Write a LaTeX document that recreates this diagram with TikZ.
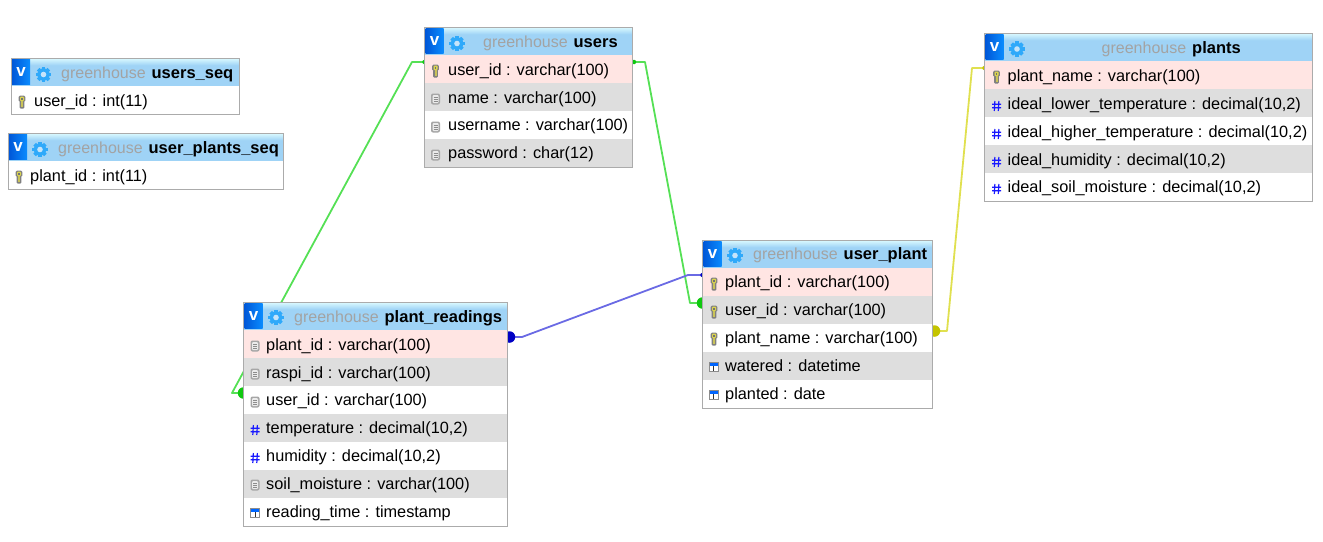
\documentclass[tikz,border=0pt]{standalone}
\usepackage{fontspec}
\setmainfont{Liberation Sans}
\usetikzlibrary{backgrounds}
\definecolor{framegray}{HTML}{ABABAB}
\definecolor{headblue}{HTML}{9FD3F6}
\definecolor{headtop}{HTML}{DDFBFF}
\definecolor{pinkrow}{HTML}{FFE5E3}
\definecolor{grayrow}{HTML}{DEDEDE}
\definecolor{dbgray}{HTML}{A3A3A3}
\definecolor{gearblue}{HTML}{2FA9FA}
\definecolor{btnleft}{HTML}{0058D8}
\definecolor{btnright}{HTML}{0A8CFF}
\definecolor{linkgreen}{HTML}{55E055}
\definecolor{dotgreen}{HTML}{10C810}
\definecolor{linkblue}{HTML}{6A6AE4}
\definecolor{dotblue}{HTML}{0000C4}
\definecolor{linkyellow}{HTML}{E0E050}
\definecolor{dotyellow}{HTML}{C4C400}
\pgfdeclareverticalshading{headshade}{100bp}{color(0bp)=(headblue); color(62bp)=(headblue); color(75bp)=(headtop); color(100bp)=(headtop)}
\pgfdeclarehorizontalshading{buttonshade}{100bp}{color(0bp)=(btnleft); color(25bp)=(btnleft); color(75bp)=(btnright); color(100bp)=(btnright)}
\newcommand{\tabname}[1]{\hspace{1.5pt}\textcolor{black}{\fontsize{16.5}{18}\selectfont\bfseries #1}}
\tikzset{
  tablebox/.style={draw=framegray, line width=1pt, anchor=north west, inner sep=0, outer sep=0},
  headrow/.style={anchor=north west, shading=headshade, minimum height=28, inner sep=0, outer sep=0},
  button/.style={anchor=north west, shading=buttonshade, minimum width=18, minimum height=25, inner sep=0, text=white, font=\fontsize{17}{18}\selectfont\bfseries},
  pink/.style={anchor=north west, fill=pinkrow, minimum height=28, inner sep=0, outer sep=0},
  gray/.style={anchor=north west, fill=grayrow, minimum height=28, inner sep=0, outer sep=0},
  plain/.style={anchor=north west, fill=white, minimum height=28, inner sep=0, outer sep=0},
  field/.style={anchor=base west, inner sep=0, font=\fontsize{16.3}{18}\selectfont},
  title/.style={anchor=base west, inner sep=0, text=dbgray, font=\fontsize{16}{18}\selectfont},
  bigdot/.style={circle, minimum size=11.5, inner sep=0},
  smalldot/.style={circle, minimum size=4.5, inner sep=0},
  link/.style={line width=1.8pt, line join=round},
  keyicon/.pic={
    \fill[black!50, rounded corners=1.5pt] (-3.4,-6.5) rectangle (3.4,0);
    \fill[black!50, rounded corners=1pt] (-2.4,-1) rectangle (2.4,6.5);
    \fill[yellow!80!black!80!white, rounded corners=1pt] (-2,-5.5) rectangle (2,-0.8);
    \fill[black!55] (-0.8,-4) rectangle (0.8,-2.4);
    \fill[yellow!70!black!80!white] (-1,-0.8) rectangle (1,5.4);
  },
  fieldicon/.pic={
    \fill[rounded corners=2pt, black!35] (-4.5,-5.5) rectangle (4.5,5.5);
    \fill[rounded corners=1pt, black!8] (-3,-4) rectangle (3,4);
    \draw[black!45, line width=0.8pt] (-2,-2) -- (2,-2) (-2,0) -- (2,0) (-2,2) -- (2,2);
  },
  numicon/.pic={
    \draw[blue!90!white, line width=1.2pt] (-1.6,-5) -- (-2.2,5) (2.4,-5) -- (1.8,5) (-4.5,-1.8) -- (4.5,-1.8) (-4.5,1.8) -- (4.5,1.8);
  },
  dateicon/.pic={
    \fill[black!45] (-5,-5) rectangle (5,5);
    \fill[white] (-4,-1.5) rectangle (4,4);
    \fill[blue!60!cyan] (-4,-4) rectangle (4,-1.5);
    \draw[black!80, line width=1.2pt] (0.3,-0.8) -- (0.3,3.5);
  },
  gearicon/.pic={
    \foreach \ang in {0,45,...,315}
      \fill[gearblue, rotate=\ang] (-1.8,-7.6) rectangle (1.8,0);
    \fill[gearblue] (0,0) circle (6.2);
    \fill[headblue!60!white] (0,0) circle (2.8);
  }
}
\begin{document}
\begin{tikzpicture}[x=1pt,y=-1pt]
  \useasboundingbox (0,0) rectangle (1323,541);

  % users_seq
  \node[headrow, minimum width=228.5] (seq_head) at (11,58) {};
  \node[button] (seq_btn) at (12,59) {v};
  \pic at (43.5,74.5) {gearicon};
  \node[title] (seq_title) at (61,78) {greenhouse \tabname{users\_seq}};
  \node[plain, minimum width=228.5] (seq_user_id) at (11,86) {};
  \pic at (22,102) {keyicon};
  \node[field] (seq_user_id_txt) at (34,106) {user\_id : int(11)};
  \node[tablebox, minimum width=228.5, minimum height=56] (users_seq) at (11,58) {};

  % user_plants_seq
  \node[headrow, minimum width=275] (pseq_head) at (8,133) {};
  \node[button] (pseq_btn) at (9,134) {v};
  \pic at (40,149.5) {gearicon};
  \node[title] (pseq_title) at (58,153) {greenhouse \tabname{user\_plants\_seq}};
  \node[plain, minimum width=275] (pseq_plant_id) at (8,161) {};
  \pic at (19,177) {keyicon};
  \node[field] (pseq_plant_id_txt) at (30,181) {plant\_id : int(11)};
  \node[tablebox, minimum width=275, minimum height=56] (user_plants_seq) at (8,133) {};

  % users
  \node[headrow, minimum width=208] (users_head) at (424.5,27) {};
  \node[button] (users_btn) at (425.5,28) {v};
  \pic at (457,43.5) {gearicon};
  \node[title] (users_title) at (483,47) {greenhouse \tabname{users}};
  \node[pink, minimum width=208] (users_user_id) at (424.5,55) {};
  \pic at (435.5,71) {keyicon};
  \node[field] (users_user_id_txt) at (448,75) {user\_id : varchar(100)};
  \node[gray, minimum width=208] (users_name) at (424.5,83) {};
  \pic at (435.5,99) {fieldicon};
  \node[field] (users_name_txt) at (448,103) {name : varchar(100)};
  \node[plain, minimum width=208] (users_username) at (424.5,111) {};
  \pic at (435.5,127) {fieldicon};
  \node[field] (users_username_txt) at (448,130) {username : varchar(100)};
  \node[gray, minimum width=208] (users_password) at (424.5,139) {};
  \pic at (435.5,155) {fieldicon};
  \node[field] (users_password_txt) at (448,158) {password : char(12)};
  \node[tablebox, minimum width=208, minimum height=140] (users) at (424.5,27) {};

  % plant_readings
  \node[headrow, minimum width=264] (read_head) at (243.5,302) {};
  \node[button] (read_btn) at (244.5,303) {v};
  \pic at (276,317.5) {gearicon};
  \node[title] (read_title) at (294,322) {greenhouse \tabname{plant\_readings}};
  \node[pink, minimum width=264] (read_plant_id) at (243.5,330) {};
  \pic at (255,346) {fieldicon};
  \node[field] (read_plant_id_txt) at (266,350) {plant\_id : varchar(100)};
  \node[gray, minimum width=264] (read_raspi_id) at (243.5,358) {};
  \pic at (255,374) {fieldicon};
  \node[field] (read_raspi_id_txt) at (266,378) {raspi\_id : varchar(100)};
  \node[plain, minimum width=264] (read_user_id) at (243.5,386) {};
  \pic at (255,402) {fieldicon};
  \node[field] (read_user_id_txt) at (266,405) {user\_id : varchar(100)};
  \node[gray, minimum width=264] (read_temperature) at (243.5,414) {};
  \pic at (255,430) {numicon};
  \node[field] (read_temperature_txt) at (266,433) {temperature : decimal(10,2)};
  \node[plain, minimum width=264] (read_humidity) at (243.5,442) {};
  \pic at (255,458) {numicon};
  \node[field] (read_humidity_txt) at (266,461) {humidity : decimal(10,2)};
  \node[gray, minimum width=264] (read_soil) at (243.5,470) {};
  \pic at (255,485) {fieldicon};
  \node[field] (read_soil_txt) at (266,489) {soil\_moisture : varchar(100)};
  \node[plain, minimum width=264] (read_time) at (243.5,498) {};
  \pic at (255,513) {dateicon};
  \node[field] (read_time_txt) at (266,517) {reading\_time : timestamp};
  \node[tablebox, minimum width=264, minimum height=224] (plant_readings) at (243.5,302) {};

  % user_plant
  \node[headrow, minimum width=230] (up_head) at (702.5,240) {};
  \node[button] (up_btn) at (703.5,241) {v};
  \pic at (735,255.5) {gearicon};
  \node[title] (up_title) at (753,259) {greenhouse \tabname{user\_plant}};
  \node[pink, minimum width=230] (up_plant_id) at (702.5,268) {};
  \pic at (714,284) {keyicon};
  \node[field] (up_plant_id_txt) at (725,287) {plant\_id : varchar(100)};
  \node[gray, minimum width=230] (up_user_id) at (702.5,296) {};
  \pic at (714,312) {keyicon};
  \node[field] (up_user_id_txt) at (725,315) {user\_id : varchar(100)};
  \node[plain, minimum width=230] (up_plant_name) at (702.5,324) {};
  \pic at (714,339) {keyicon};
  \node[field] (up_plant_name_txt) at (725,343) {plant\_name : varchar(100)};
  \node[gray, minimum width=230] (up_watered) at (702.5,352) {};
  \pic at (713.5,367) {dateicon};
  \node[field] (up_watered_txt) at (725,371) {watered : datetime};
  \node[plain, minimum width=230] (up_planted) at (702.5,380) {};
  \pic at (713.5,395) {dateicon};
  \node[field] (up_planted_txt) at (725,399) {planted : date};
  \node[tablebox, minimum width=230, minimum height=168] (user_plant) at (702.5,240) {};

  % plants
  \node[headrow, minimum width=328] (pl_head) at (984.5,33) {};
  \node[button] (pl_btn) at (985.5,34) {v};
  \pic at (1017,49) {gearicon};
  \node[title] (pl_title) at (1101.5,53) {greenhouse \tabname{plants}};
  \node[pink, minimum width=328] (pl_plant_name) at (984.5,61) {};
  \pic at (996.5,77) {keyicon};
  \node[field] (pl_plant_name_txt) at (1007.5,81) {plant\_name : varchar(100)};
  \node[gray, minimum width=328] (pl_lower) at (984.5,89) {};
  \pic at (996.5,106) {numicon};
  \node[field] (pl_lower_txt) at (1007.5,109) {ideal\_lower\_temperature : decimal(10,2)};
  \node[plain, minimum width=328] (pl_higher) at (984.5,117) {};
  \pic at (996.5,134) {numicon};
  \node[field] (pl_higher_txt) at (1007.5,137) {ideal\_higher\_temperature : decimal(10,2)};
  \node[gray, minimum width=328] (pl_humidity) at (984.5,145) {};
  \pic at (996.5,162) {numicon};
  \node[field] (pl_humidity_txt) at (1007.5,165) {ideal\_humidity : decimal(10,2)};
  \node[plain, minimum width=328] (pl_soil) at (984.5,173) {};
  \pic at (996.5,189) {numicon};
  \node[field] (pl_soil_txt) at (1007.5,192) {ideal\_soil\_moisture : decimal(10,2)};
  \node[tablebox, minimum width=328, minimum height=168] (plants) at (984.5,33) {};

  % relations, behind the tables
  \begin{scope}[on background layer]
    \coordinate (bend_a) at (412,62);
    \coordinate (bend_b) at (232,393);
    \coordinate (bend_c) at (645,62);
    \coordinate (bend_d) at (690,303);
    \coordinate (bend_e) at (522,337);
    \coordinate (bend_f) at (688,275);
    \coordinate (bend_g) at (947,331);
    \coordinate (bend_h) at (972,68);
    \draw[link, linkgreen] ([yshift=7pt]users_user_id.west) -- (bend_a) -- (bend_b) -- ([yshift=7pt]read_user_id.west);
    \draw[link, linkgreen] ([yshift=7pt]users_user_id.east) -- (bend_c) -- (bend_d) -- ([yshift=7pt]up_user_id.west);
    \draw[link, linkblue] ([yshift=7pt]read_plant_id.east) -- (bend_e) -- (bend_f) -- ([yshift=7pt]up_plant_id.west);
    \draw[link, linkyellow] ([yshift=7pt]up_plant_name.east) -- (bend_g) -- (bend_h) -- ([yshift=7pt]pl_plant_name.west);
    \node[bigdot, fill=dotgreen] (dot_a) at ([yshift=7pt]read_user_id.west) {};
    \node[bigdot, fill=dotgreen] (dot_b) at ([yshift=7pt]up_user_id.west) {};
    \node[bigdot, fill=dotblue] (dot_c) at ([xshift=2pt,yshift=7pt]read_plant_id.east) {};
    \node[bigdot, fill=dotyellow] (dot_d) at ([xshift=2pt,yshift=7pt]up_plant_name.east) {};
    \node[smalldot, fill=dotgreen] (dot_e) at ([yshift=7pt]users_user_id.west) {};
    \node[smalldot, fill=dotgreen] (dot_f) at ([xshift=1.5pt,yshift=7pt]users_user_id.east) {};
    \node[smalldot, fill=dotblue] (dot_g) at ([yshift=7pt]up_plant_id.west) {};
    \node[smalldot, fill=dotyellow] (dot_h) at ([yshift=7pt]pl_plant_name.west) {};
  \end{scope}
\end{tikzpicture}
\end{document}
